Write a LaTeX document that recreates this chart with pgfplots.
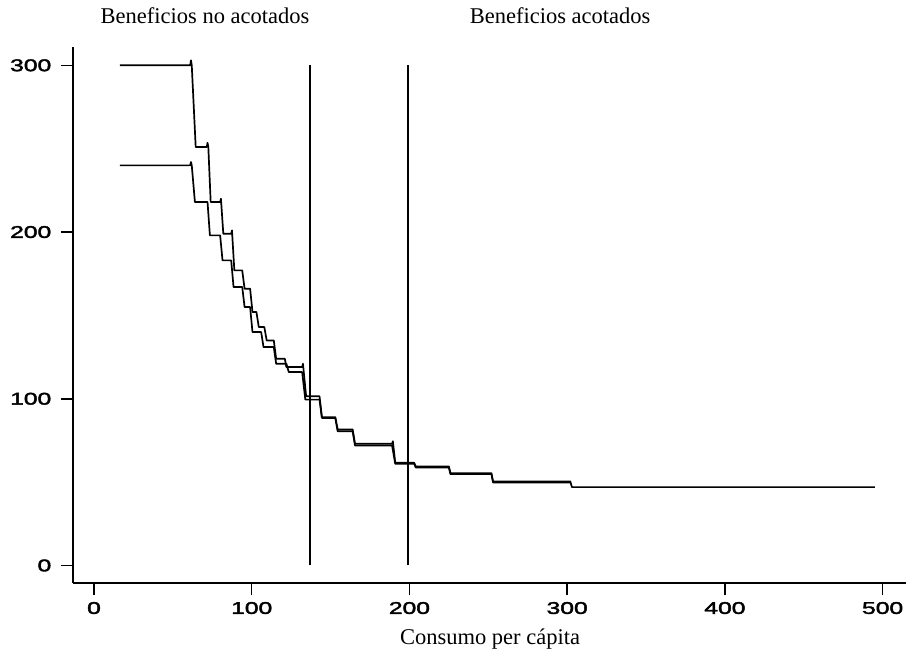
\documentclass[border=0pt]{standalone}
\usepackage{fontspec}
\setmainfont{Liberation Serif}
\newfontfamily\ticksans[FakeBold=2]{Liberation Sans}
\usepackage{pgfplots}
\pgfplotsset{compat=1.18}

% Step curves of benefits against per-capita consumption
\pgfplotstableread{
x y
16.5 300
61 300
61.5 303
62 300
64.5 251
71.5 251
72 253.5
72.5 251
74 218
80 218
80.5 220
82 199
87 199
87.5 201
89 177
94 177
95.5 166
99 166
100.5 152
103 152
104.5 143
108 143
109.5 135
114 135
115.5 124
121 124
122 119
132 119
132.5 121
134.5 101.5
143 101.5
144.5 89
153 89
154.5 81.6
164 81.6
165.5 73
189 73
189.5 74.5
191 61.6
203 61.6
204 59.4
225 59.4
226 55.4
252 55.4
253 50.4
302 50.4
303 47
495 47
}\uppercurve

\pgfplotstableread{
x y
16.5 240
61 240
61.5 242
62 240
64 218
72 218
73.5 198
80 198
81.5 183
87 183
88.5 167
94 167
95.5 155
99 155
100.5 140
106 140
107.5 131
114 131
115.5 121
122 121
123.5 116
132 116
134 99.5
143 99.5
144.5 88.5
153 88.5
154.5 80.5
164 80.5
165.5 72
189 72
191 61
203 61
204 58.8
225 58.8
226 54.8
252 54.8
253 49.8
302 49.8
}\lowercurve

\begin{document}
\begin{tikzpicture}[x=1pt,y=1pt]
\path[use as bounding box] (-73.3,-77) rectangle (837.7,583);
\begin{axis}[
  scale only axis, width=833pt, height=536pt,
  xmin=-13.1, xmax=515, ymin=-10.5, ymax=311,
  axis x line*=bottom, axis y line*=left,
  axis line style={line width=1.6pt, -},
  xtick={0,100,...,500}, ytick={0,100,200,300},
  tick align=outside, major tick length=12.5pt,
  tick style={line width=1.5pt, black},
  xticklabel={\scalebox{1.45}[1]{\pgfmathprintnumber[assume math mode=true]{\tick}}},
  yticklabel={\scalebox{1.45}[1]{\pgfmathprintnumber[assume math mode=true]{\tick}}},
  ticklabel style={font=\ticksans\fontsize{17}{17}\selectfont},
  xticklabel style={yshift=-3pt},
  yticklabel style={xshift=-6pt},
  clip=false,
]
\addplot[black, line width=1.7pt, line join=round] table {\uppercurve};
\addplot[black, line width=1.7pt, line join=round] table {\lowercurve};
\addplot[black, line width=1.4pt] coordinates {(137,0) (137,300)};
\addplot[black, line width=1.4pt] coordinates {(199,0) (199,300)};
\node[anchor=base, font=\fontsize{22.5}{24}\selectfont] at (axis cs:70.4,325) {Beneficios no acotados};
\node[anchor=base, font=\fontsize{22.5}{24}\selectfont] at (axis cs:295.5,325) {Beneficios acotados};
\node[anchor=base, font=\fontsize{22.5}{24}\selectfont] at (axis cs:251.1,-47.4) {Consumo per cápita};
\end{axis}
\end{tikzpicture}
\end{document}
